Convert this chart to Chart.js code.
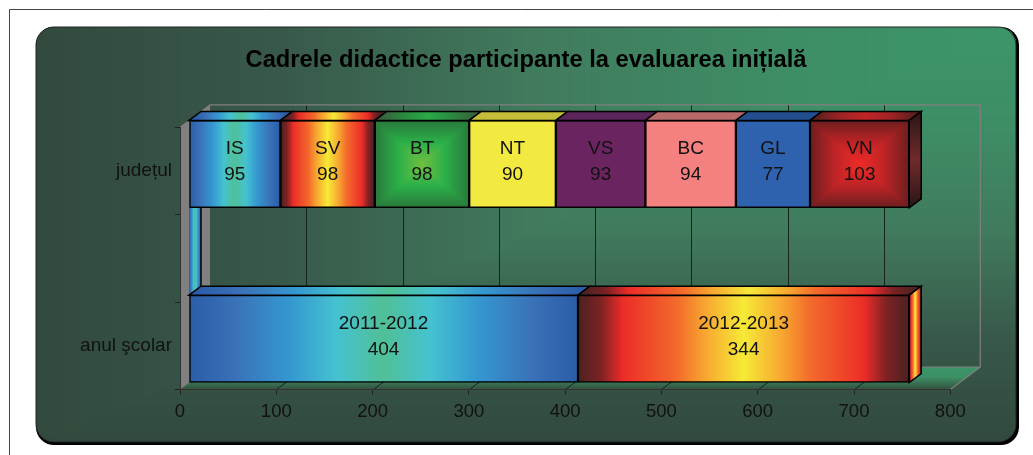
<!DOCTYPE html>
<html>
<head>
<meta charset="utf-8">
<style>
  html, body { margin: 0; padding: 0; background: #fff; }
  canvas { display: block; }
</style>
<script src="https://cdn.jsdelivr.net/npm/chart.js@4"></script>
</head>
<body>
<canvas id="myChart" width="1033" height="455"></canvas>
<script>
const categories = ['județul', '', 'anul şcolar'];
const countyNames = ['IS', 'SV', 'BT', 'NT', 'VS', 'BC', 'GL', 'VN'];
const countyValues = [95, 98, 98, 90, 93, 94, 77, 103];
const yearNames = ['2011-2012', '2012-2013'];
const yearValues = [404, 344];
const blankRow = [0];
const titleText = 'Cadrele didactice participante la evaluarea inițială';

// half of each gradient, the other half is mirrored
const blueStops = [[0, '#2b5ca8'], [.12, '#3a72b8'], [.26, '#3498d0'], [.38, '#45c2d0'], [.5, '#50c096']];
const redStops = [[0, '#4a2222'], [.07, '#7f2223'], [.135, '#ec2c28'], [.3, '#f36b2b'], [.38, '#f7a430'], [.5, '#f6ea36']];
const greenBox = ['#2a7a3c', '#2cb04a', '#72c040'];
const redBox = ['#6e1f20', '#bf2527', '#ee2c28'];
const greenTop = [[0, '#3b5f3c'], [.25, '#2a8a40'], [.5, '#2bab49']];
const redTop = [[0, '#5a1f1f'], [.25, '#a02325'], [.5, '#c02527']];
const solids = { NT: ['#f2ea40', '#c4bd3a'], VS: ['#6a2460', '#5a2559'], BC: ['#f48080', '#b86a6a'], GL: ['#2f62ae', '#234f90'] };

const font = 'Liberation Sans, Arial, sans-serif';
const front = { x: 9, y: -7 };   // where the bars' faces sit, from the axes
const depth = { x: 12, y: -9 };  // how deep the bars are
const wall = { x: 30, y: -22.5 };

function hex(c) { return [1, 3, 5].map(i => parseInt(c.substr(i, 2), 16)); }
function mix(a, b, t) {
  const p = hex(a), q = hex(b);
  return 'rgb(' + p.map((v, i) => Math.round(v + (q[i] - v) * t)).join(',') + ')';
}
function pick(stops, t) {
  for (let i = 1; i < stops.length; i++) {
    if (t <= stops[i][0]) {
      const a = stops[i - 1], b = stops[i];
      return mix(a[1], b[1], (t - a[0]) / (b[0] - a[0]));
    }
  }
  return stops[stops.length - 1][1];
}

function mirrored(ctx, x0, x1, stops) {
  const g = ctx.createLinearGradient(x0, 0, x1, 0);
  stops.forEach(s => { g.addColorStop(s[0], s[1]); g.addColorStop(1 - s[0], s[1]); });
  return g;
}

// "from centre" fill, nested rectangles on a spare canvas
function boxFill(ctx, x0, y0, x1, y1, cols) {
  const c = document.createElement('canvas');
  c.width = 1033; c.height = 455;
  const o = c.getContext('2d');
  const stops = [[0, cols[0]], [.5, cols[1]], [1, cols[2]]];
  for (let i = 0; i <= 60; i++) {
    const t = i / 60, ix = (x1 - x0) / 2 * t, iy = (y1 - y0) / 2 * t;
    o.fillStyle = pick(stops, t);
    o.fillRect(x0 + ix, y0 + iy, x1 - x0 - 2 * ix, y1 - y0 - 2 * iy);
  }
  return ctx.createPattern(c, 'no-repeat');
}

// series i, row r -> pixel span of the bar
function span(chart, i, r) {
  let before = 0;
  for (let k = 0; k < i; k++) before += chart.data.datasets[k].data[r] || 0;
  const sc = chart.scales.x;
  return [sc.getPixelForValue(before), sc.getPixelForValue(before + chart.data.datasets[i].data[r])];
}

function faceFill(c) {
  const chart = c.chart, i = c.datasetIndex, r = c.dataIndex;
  if (!chart.chartArea || !chart.scales.x) return '#888';
  const [x0, x1] = span(chart, i, r);
  if (i === 0) return mirrored(chart.ctx, x0, x1, blueStops);
  if (i === 1) return mirrored(chart.ctx, x0, x1, redStops);
  const name = countyNames[i];
  if (name === 'BT' || name === 'VN') {
    const band = chart.scales.y.getPixelForValue(r), h = (chart.chartArea.bottom - chart.chartArea.top) / 3;
    return boxFill(chart.ctx, x0, band - h / 2, x1, band + h / 2, name === 'BT' ? greenBox : redBox);
  }
  return solids[name][0];
}

const datasets = countyNames.map((name, i) => ({
  label: name,
  data: [countyValues[i], i === 0 ? blankRow[0] : null, i < yearValues.length ? yearValues[i] : null],
  backgroundColor: faceFill,
  borderColor: '#000',
  borderWidth: 1.5,
  borderSkipped: false,
  clip: false,
  barPercentage: 1,
  categoryPercentage: 1
}));

function poly(ctx, pts, fill, stroke, lw) {
  ctx.beginPath();
  pts.forEach((p, i) => i ? ctx.lineTo(p[0], p[1]) : ctx.moveTo(p[0], p[1]));
  ctx.closePath();
  if (fill) { ctx.fillStyle = fill; ctx.fill(); }
  if (stroke) { ctx.strokeStyle = stroke; ctx.lineWidth = lw || 1; ctx.stroke(); }
}

const panel = {
  id: 'panel',
  afterLayout(chart) {
    // title sits in the middle of the panel, not of the plot
    chart.titleBlock.left = 36;
    chart.titleBlock.right = 1016;
  },
  beforeDraw(chart) {
    const ctx = chart.ctx, L = 36, T = 27, R = 1016, B = 442, rad = 18;
    const a = chart.chartArea, sx = chart.scales.x;

    // sheet edge, top and left only
    ctx.save();
    ctx.strokeStyle = '#444';
    ctx.lineWidth = 1;
    ctx.beginPath();
    ctx.moveTo(9.5, 455); ctx.lineTo(9.5, 9.5); ctx.lineTo(1033, 9.5);
    ctx.stroke();

    // shadow and panel
    ctx.fillStyle = '#000';
    ctx.beginPath(); ctx.roundRect(L, T, R - L + 3, B - T + 3, rad); ctx.fill();
    ctx.save();
    ctx.beginPath(); ctx.roundRect(L, T, R - L, B - T, rad); ctx.clip();
    const stops = [[0, '#3c9669'], [.25, '#3e8d65'], [.5, '#417a5d'], [.75, '#38594a'], [1, '#324a3e']];
    const W = R - L, H = B - T;
    for (let i = 300; i > 0; i--) {
      const t = i / 300;
      ctx.fillStyle = pick(stops, t);
      ctx.fillRect(R - W * t, T, W * t, H * t);
    }
    ctx.restore();
    ctx.strokeStyle = '#222';
    ctx.beginPath(); ctx.roundRect(L, T, R - L, B - T, rad); ctx.stroke();

    // 3d box behind the bars
    const xl = a.left, xr = a.right, yt = a.top, yb = a.bottom;
    const floor = ctx.createLinearGradient(0, yb + wall.y, 0, yb);
    floor.addColorStop(0, '#3c9468');
    floor.addColorStop(.45, '#3c9065');
    floor.addColorStop(1, '#35503f');
    poly(ctx, [[xl, yb], [xr, yb], [xr + wall.x, yb + wall.y], [xl + wall.x, yb + wall.y]], floor);
    poly(ctx, [[xl, yt], [xl + wall.x, yt + wall.y], [xl + wall.x, yb + wall.y], [xl, yb]], '#808080');

    ctx.lineWidth = 1;
    for (let v = 100; v < 800; v += 100) {
      const x = Math.round(sx.getPixelForValue(v)) + .5;
      ctx.strokeStyle = '#16241d';
      ctx.beginPath();
      ctx.moveTo(x, yb); ctx.lineTo(x + wall.x, yb + wall.y); ctx.lineTo(x + wall.x, yt + wall.y);
      ctx.stroke();
    }
    ctx.strokeStyle = '#808080';
    ctx.lineWidth = 1.2;
    ctx.beginPath();
    ctx.moveTo(xl + wall.x, yb + wall.y); ctx.lineTo(xr + wall.x, yb + wall.y);
    ctx.lineTo(xr + wall.x, yt + wall.y); ctx.lineTo(xl + wall.x, yt + wall.y); ctx.lineTo(xl, yt);
    ctx.moveTo(xr, yb); ctx.lineTo(xr + wall.x, yb + wall.y);
    ctx.stroke();
    ctx.restore();
  },
  beforeDatasetsDraw(chart) {
    const ctx = chart.ctx;
    ctx.save();
    ctx.translate(front.x, front.y);
    // the zero bar of the empty row only shows its end, behind the other bars
    const bar = chart.getDatasetMeta(0).data[1];
    const [, x1] = span(chart, 0, 1);
    const yT = bar.y - bar.height / 2, yB = bar.y + bar.height / 2;
    poly(ctx, [[x1, yT], [x1 + depth.x, yT + depth.y], [x1 + depth.x, yB + depth.y], [x1, yB]],
      mirrored(ctx, x1, x1 + depth.x, blueStops));
    ctx.strokeStyle = '#000';
    ctx.lineWidth = 1.5;
    ctx.beginPath();
    ctx.moveTo(x1 + depth.x, yT + depth.y);
    ctx.lineTo(x1 + depth.x, yB + depth.y);
    ctx.stroke();
  },
  afterDatasetsDraw(chart) {
    const ctx = chart.ctx;
    const dx = depth.x, dy = depth.y;
    const rowText = { 0: countyNames, 2: yearNames };
    const rowVals = { 0: countyValues, 2: yearValues };

    chart.data.datasets.forEach((ds, i) => {
      const meta = chart.getDatasetMeta(i);
      meta.data.forEach((bar, r) => {
        if (ds.data[r] === null || r === 1) return;
        const [x0, x1] = span(chart, i, r);
        const yT = bar.y - bar.height / 2, yB = bar.y + bar.height / 2;
        const name = countyNames[i];

        // top face
        let top;
        if (i === 0) top = mirrored(ctx, x0 + dx / 2, x1 + dx / 2, blueStops);
        else if (i === 1) top = mirrored(ctx, x0 + dx / 2, x1 + dx / 2, redStops);
        else if (name === 'BT') top = mirrored(ctx, x0 + dx / 2, x1 + dx / 2, greenTop);
        else if (name === 'VN') top = mirrored(ctx, x0 + dx / 2, x1 + dx / 2, redTop);
        else top = solids[name][1];
        poly(ctx, [[x0, yT], [x0 + dx, yT + dy], [x1 + dx, yT + dy], [x1, yT]], top, '#000', 1.5);

        // end face, only the last bar of a row shows one
        if (r === 2 && i === yearNames.length - 1) {
          poly(ctx, [[x1, yT], [x1 + dx, yT + dy], [x1 + dx, yB + dy], [x1, yB]], mirrored(ctx, x1, x1 + dx, redStops), '#000', 1.5);
        }
        if (r === 0 && i === countyNames.length - 1) {
          const side = ctx.createLinearGradient(0, yT + dy, 0, yB);
          side.addColorStop(0, '#2a1616');
          side.addColorStop(.5, '#702a2a');
          side.addColorStop(1, '#2a1616');
          poly(ctx, [[x1, yT], [x1 + dx, yT + dy], [x1 + dx, yB + dy], [x1, yB]], side, '#000', 1.5);
        }

        // labels
        ctx.fillStyle = '#111';
        ctx.font = '19px ' + font;
        ctx.textAlign = 'center';
        ctx.textBaseline = 'middle';
        ctx.fillText(rowText[r][i], (x0 + x1) / 2, bar.y - 15.5);
        ctx.fillText(String(rowVals[r][i]), (x0 + x1) / 2, bar.y + 11);
      });
    });
    ctx.restore();
  }
};

new Chart(document.getElementById('myChart'), {
  type: 'bar',
  data: { labels: categories, datasets: datasets },
  options: {
    indexAxis: 'y',
    responsive: false,
    animation: false,
    devicePixelRatio: 1,
    layout: { padding: { left: 20, right: 82.7, top: 0, bottom: 0 } },
    scales: {
      x: {
        stacked: true, min: 0, max: 800,
        ticks: { stepSize: 100, color: '#111', font: { family: font, size: 18.5 }, padding: 6, maxRotation: 0 },
        grid: { drawOnChartArea: false, color: '#222', tickLength: 5 },
        border: { color: '#333', width: 1 },
        afterFit: s => { s.height = 65.5; }
      },
      y: {
        stacked: true,
        ticks: { color: '#111', font: { family: font, size: 19 }, padding: 3, autoSkip: false },
        grid: { drawOnChartArea: false, color: '#222', tickLength: 5 },
        border: { color: '#333', width: 1 },
        afterFit: s => { s.width = 160; }
      }
    },
    plugins: {
      legend: { display: false },
      tooltip: { enabled: false },
      title: {
        display: true,
        text: titleText,
        color: '#000',
        font: { family: font, size: 23.7, weight: 'bold' },
        padding: { top: 46, bottom: 53 }
      }
    }
  },
  plugins: [panel]
});
</script>
</body>
</html>
